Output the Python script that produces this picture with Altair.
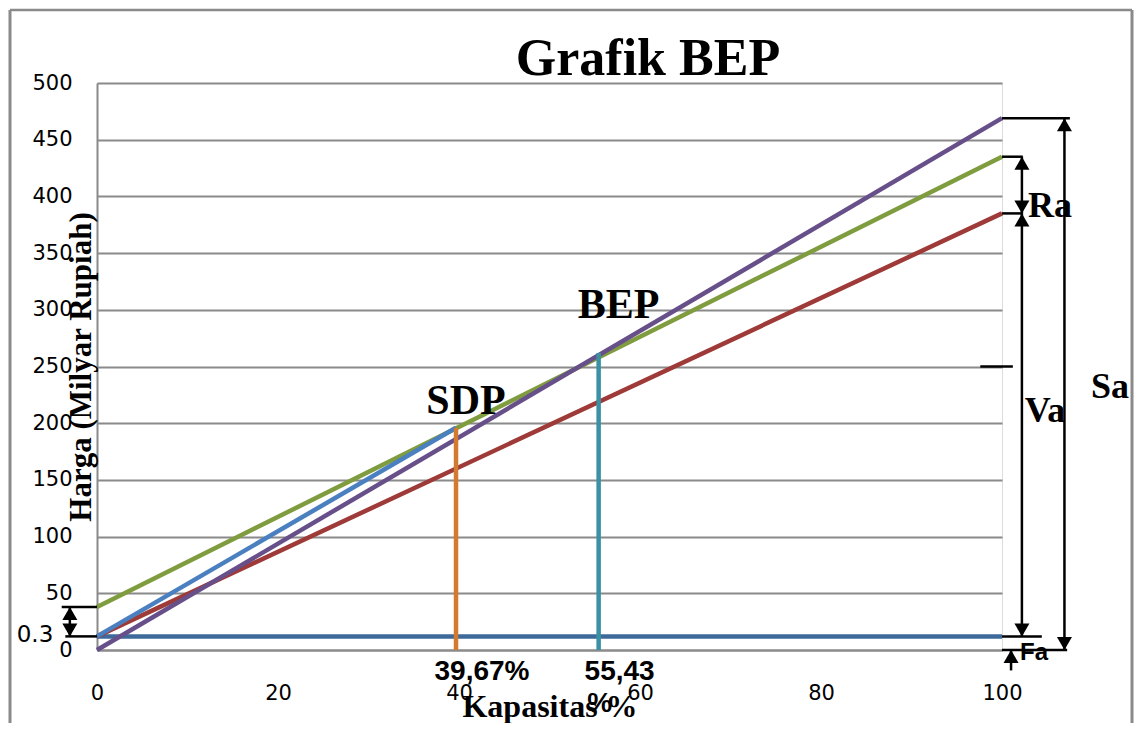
import altair as alt
import pandas as pd

# ---------------- data ----------------
capacity = [0, 100]                 # Kapasitas %
fixed_cost = [12, 12]               # Fa  (biaya tetap)
variable_cost = [12, 385]           # Fa + Va
total_cost = [38, 435]              # Fa + Va + Ra
sales = [0, 469]                    # Sa
sdp_x = [0, 39.67]
sdp_y = [12, 196]
sdp_pct = 39.67
sdp_level = 196
bep_pct = 55.43
bep_level = 262
fa_level = 12
left_level = 38
mid_level = 250

x_ticks = [0, 20, 40, 60, 80, 100]
y_ticks = [0, 50, 100, 150, 200, 250, 300, 350, 400, 450, 500]

# ---------------- layout constants (plot pixels) ----------------
W, H = 905, 567
GRAY = "#8a8a8a"
SERIF = "Liberation Serif"
SANS = "Liberation Sans"
LABEL = "DejaVu Sans"

xscale = alt.Scale(domain=[0, 100], nice=False, zero=False)
yscale = alt.Scale(domain=[0, 500], nice=False, zero=False)

xaxis = alt.Axis(values=x_ticks, title="Kapasitas %", grid=False, ticks=False, tickSize=0,
                 labelFont=LABEL, labelFontSize=21, labelColor="black", labelPadding=32,
                 labelFlush=False, labelOverlap=False,
                 domainColor=GRAY, domainWidth=2,
                 titleFont=SERIF, titleFontSize=32, titleFontWeight="bold", titleColor="black",
                 titleX=W / 2, titleY=66, titleBaseline="alphabetic", titleAlign="center")
yaxis = alt.Axis(values=y_ticks, title="Harga (Milyar Rupiah)", grid=True, gridColor=GRAY,
                 gridWidth=2, ticks=False, tickSize=0,
                 labelFont=LABEL, labelFontSize=21, labelColor="black", labelPadding=25,
                 labelOverlap=False, domainColor=GRAY, domainWidth=2,
                 titleFont=SERIF, titleFontSize=31, titleFontWeight="bold", titleColor="black",
                 titleAngle=-90, titleX=-7, titleY=H / 2, titleBaseline="alphabetic",
                 titleAlign="center")

X = alt.X("x:Q", scale=xscale, axis=xaxis)
Y = alt.Y("y:Q", scale=yscale, axis=yaxis)


def line(xs, ys, color, width=4.5):
    df = pd.DataFrame({"x": xs, "y": ys})
    return alt.Chart(df).mark_line(color=color, strokeWidth=width, strokeCap="butt").encode(x=X, y=Y)


layers = []
layers.append(line(capacity, fixed_cost, "#3e6a9b"))
layers.append(line(capacity, variable_cost, "#9e3a38"))
layers.append(line(capacity, total_cost, "#7f9c3f"))
layers.append(line(capacity, sales, "#67508a"))
layers.append(line(sdp_x, sdp_y, "#4a7fc0"))
layers.append(line([sdp_pct, sdp_pct], [0, sdp_level], "#d27b30"))
layers.append(line([bep_pct, bep_pct], [0, bep_level], "#3a91a4"))

# ---------------- dimension arrows (levels from data, x offsets are layout) ----------------
x_ra, x_sa, x_fa = 102.2, 106.9, 101.0
x_left = -3.0
sa_top, tc_end, vc_end = sales[1], total_cost[1], variable_cost[1]
seg_rows = [
    (100, 107.5, sa_top, sa_top),
    (100, 102.3, tc_end, tc_end),
    (100, 102.3, vc_end, vc_end),
    (100, 104.4, fa_level, fa_level),
    (100, 107.2, 0, 0),
    (x_sa, x_sa, sa_top, 0),
    (x_ra, x_ra, tc_end, vc_end),
    (x_ra, x_ra, vc_end, fa_level),
    (x_fa, x_fa, -18, -1),
    (97.6, 101.2, mid_level, mid_level),
    (-3.9, 0, left_level, left_level),
    (-3.5, 0, fa_level, fa_level),
    (x_left, x_left, left_level, fa_level),
]
segs = pd.DataFrame(seg_rows, columns=["x", "x2", "y", "y2"])
layers.append(alt.Chart(segs).mark_rule(color="black", strokeWidth=2.5).encode(
    x=X, x2="x2:Q", y=Y, y2="y2:Q"))

ups = pd.DataFrame({"x": [x_sa, x_ra, x_ra, x_left, x_fa],
                    "y": [sa_top, tc_end, vc_end, left_level, 0]})
downs = pd.DataFrame({"x": [x_sa, x_ra, x_ra, x_left],
                      "y": [0, vc_end, fa_level, fa_level]})
layers.append(alt.Chart(ups).mark_point(shape="triangle-up", filled=True, size=225, yOffset=6.5,
                                        color="black", opacity=1).encode(x=X, y=Y))
layers.append(alt.Chart(downs).mark_point(shape="triangle-down", filled=True, size=225, yOffset=-6.5,
                                          color="black", opacity=1).encode(x=X, y=Y))


# ---------------- text annotations ----------------
def label(text, xv, yv, dx, dy, size, font=SERIF, weight="bold", baseline="alphabetic"):
    df = pd.DataFrame({"x": [xv], "y": [yv], "t": [text]})
    return alt.Chart(df).mark_text(dx=dx, dy=dy, fontSize=size, font=font, fontWeight=weight,
                                   color="black", align="center", baseline=baseline).encode(
        x=X, y=Y, text="t:N")


layers.append(label("BEP", bep_pct, bep_level, 20, -35, 42))
layers.append(label("SDP", sdp_pct, sdp_level, 10, -14, 42))
layers.append(label("39,67%", sdp_pct, 0, 26, 30, 28, font=SANS))
layers.append(label("55,43", bep_pct, 0, 21, 30, 28, font=SANS))
layers.append(label("%", bep_pct, 0, 1, 62, 28, font=SANS))
layers.append(label("Ra", 100, vc_end, 48, 4, 36))
layers.append(label("Va", 100, mid_level, 43, 55, 36))
layers.append(label("Sa", 100, mid_level, 108, 31, 36))
layers.append(label("Fa", 100, 0, 32, 10, 24, font=SANS))
layers.append(label("0.3", 0, fa_level, -62, -1, 23, font=LABEL, weight="normal", baseline="middle"))

# chart title
layers.append(alt.Chart(pd.DataFrame({"t": ["Grafik BEP"]})).mark_text(
    fontSize=52, font=SERIF, fontWeight="bold", color="black", align="center",
    baseline="alphabetic").encode(x=alt.value(551), y=alt.value(-8), text="t:N"))

# outer frame
frame = pd.DataFrame({"k": [1]})
layers.append(alt.Chart(frame).mark_rule(color=GRAY, strokeWidth=3).encode(
    x=alt.value(-87), y=alt.value(-73), y2=alt.value(720)))
layers.append(alt.Chart(frame).mark_rule(color=GRAY, strokeWidth=3).encode(
    x=alt.value(1035), y=alt.value(-73), y2=alt.value(720)))
layers.append(alt.Chart(frame).mark_rule(color=GRAY, strokeWidth=2.5).encode(
    x=alt.value(-87), x2=alt.value(1035), y=alt.value(-73)))

chart = alt.layer(*layers).properties(
    width=W, height=H,
    autosize=alt.AutoSizeParams(type="none"),
    padding={"left": 89, "top": 75, "right": 132, "bottom": 73},
).configure_view(stroke=None).configure(background="white")

chart.save("out.html", embed_options={"renderer": "svg", "actions": False})
